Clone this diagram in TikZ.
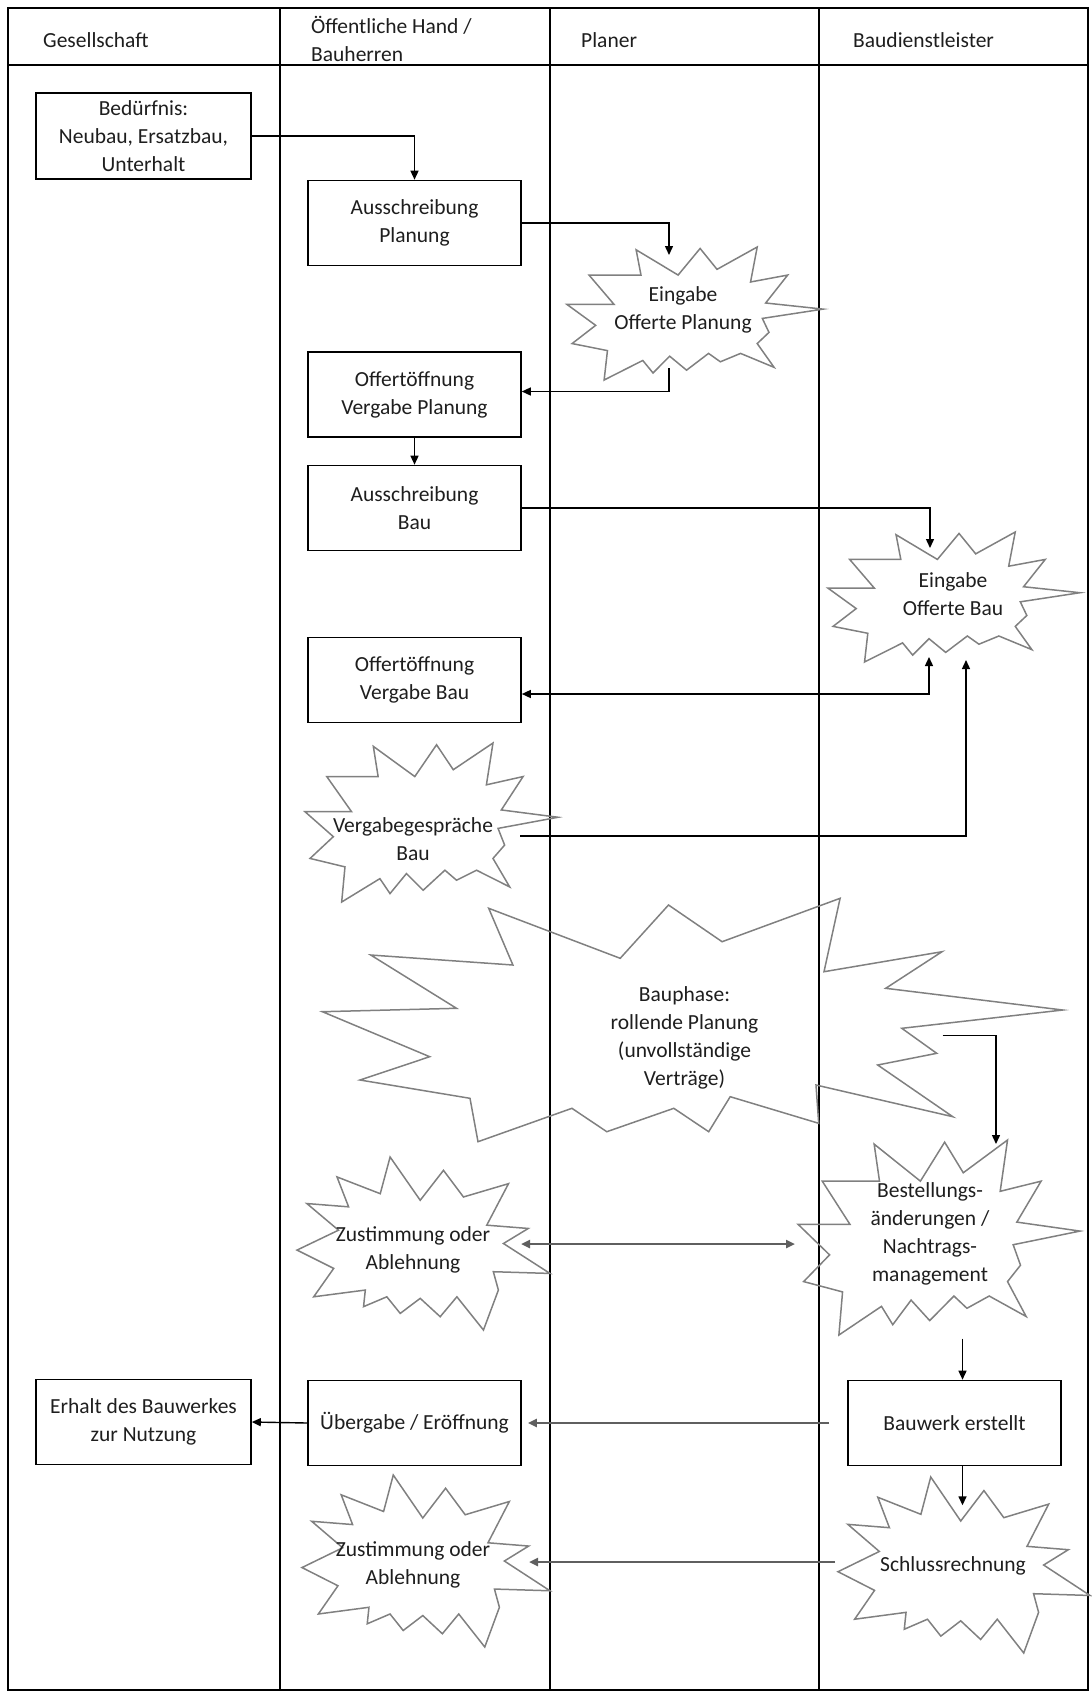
\documentclass[tikz,border=0pt]{standalone}
\usepackage{fontspec}
\setmainfont{Carlito}
\usetikzlibrary{arrows.meta,calc}
\definecolor{txt}{RGB}{30,30,30}
\definecolor{starc}{RGB}{128,128,128}
\definecolor{garrc}{RGB}{95,95,95}
\tikzset{
  lane/.style={line width=1.5pt, draw=black},
  box/.style={draw=black, line width=1.6pt, minimum width=213pt, minimum height=85pt, align=center, inner sep=2pt, text=txt},
  startext/.style={align=center, inner sep=0pt, text=txt},
  hdr/.style={anchor=west, align=left, inner sep=0pt, text=txt},
  starline/.style={draw=starc, line width=1.5pt, line join=miter},
  arr/.style={draw=black, line width=1.4pt, -{Triangle[length=9pt,width=8pt]}},
  arrb/.style={draw=black, line width=1.4pt, {Triangle[length=9pt,width=8pt]}-{Triangle[length=9pt,width=8pt]}},
  garr/.style={draw=garrc, line width=2.4pt, -{Triangle[length=9pt,width=8pt]}},
  garrb/.style={draw=garrc, line width=2.4pt, {Triangle[length=9pt,width=8pt]}-{Triangle[length=9pt,width=8pt]}},
  shapeone/.pic={
    \draw[starline] (0.270,0.021) -- (0.434,0.211) -- (0.520,0.011) -- (0.586,0.168) -- (0.743,0.000) -- (0.717,0.263) -- (0.862,0.211) -- (0.776,0.421) -- (1.000,0.467) -- (0.763,0.537) -- (0.789,0.642) -- (0.743,0.726) -- (0.809,0.905) -- (0.678,0.800) -- (0.599,0.863) -- (0.553,0.800) -- (0.467,0.926) -- (0.401,0.821) -- (0.336,0.947) -- (0.296,0.853) -- (0.145,1.000) -- (0.158,0.779) -- (0.020,0.726) -- (0.112,0.589) -- (0.000,0.432) -- (0.184,0.432) -- (0.086,0.211) -- (0.289,0.211) -- cycle;
  },
  shapetwo/.pic={
    \draw[starline] (0.368,0.000) -- (0.487,0.250) -- (0.579,0.077) -- (0.658,0.231) -- (0.836,0.154) -- (0.750,0.394) -- (0.914,0.413) -- (0.816,0.500) -- (1.000,0.673) -- (0.776,0.663) -- (0.796,0.769) -- (0.737,1.000) -- (0.632,0.808) -- (0.566,0.923) -- (0.487,0.817) -- (0.408,0.904) -- (0.355,0.808) -- (0.263,0.865) -- (0.270,0.769) -- (0.066,0.808) -- (0.145,0.644) -- (0.000,0.538) -- (0.164,0.423) -- (0.039,0.269) -- (0.204,0.288) -- (0.158,0.115) -- (0.329,0.212) -- cycle;
  }
}
\begin{document}
\begin{tikzpicture}[x=1pt, y=-1pt, font=\fontsize{21.5}{28}\selectfont]
\useasboundingbox (0,0) rectangle (1092,1695);
% swimlanes
\draw[lane] (8,8) rectangle (1088,1690);
\draw[lane] (8,65) -- (1088,65);
\draw[lane] (280,8) -- (280,1690);
\draw[lane] (550,8) -- (550,1690);
\draw[lane] (819,8) -- (819,1690);
\node[hdr] (h1) at (43,40) {Gesellschaft};
\node[hdr] (h2) at (311,39) {Öffentliche Hand /\\Bauherren};
\node[hdr] (h3) at (581,40) {Planer};
\node[hdr] (h4) at (853,40) {Baudienstleister};
% starbursts (outlines)
\pic[shift={(567,247)}, xscale=256, yscale=133] {shapeone};
\pic[shift={(828,532)}, xscale=252, yscale=130] {shapeone};
\pic[shift={(305,743)}, xscale=253, yscale=159] {shapeone};
\pic[shift={(798,1140)}, xscale=282, yscale=195] {shapeone};
\pic[shift={(297,1157)}, xscale=253, yscale=173] {shapetwo};
\pic[shift={(302,1475)}, xscale=248, yscale=172] {shapetwo};
\pic[shift={(838,1477)}, xscale=252, yscale=176] {shapetwo};
\draw[starline] (488.7,908.3) -- (512.9,965) -- (370.7,955) -- (456.5,1008.3) -- (322.4,1011.7) -- (429.7,1056.7) -- (360,1080) -- (470,1098.3) -- (478,1141.7) -- (571.9,1108.3) -- (606.8,1131.7) -- (673.8,1108.3) -- (708.7,1131.7) -- (730.2,1096.7) -- (818.7,1123.3) -- (816,1085) -- (952.8,1116.7) -- (877.7,1065) -- (936.7,1053.3) -- (901.8,1028.3) -- (1062.8,1010) -- (885.7,988.3) -- (942,951.7) -- (824,971.7) -- (840.1,898.3) -- (722.1,941.7) -- (668.5,905) -- (620.2,958.3) -- cycle;
% star texts
\node[startext] (eop) at (683,310) {Eingabe\\Offerte Planung};
\node[startext] (eob) at (953,594) {Eingabe\\Offerte Bau};
\node[startext] (vgb) at (413,839) {Vergabegespräche\\Bau};
\node[startext] (bph) at (684.5,1037.5) {Bauphase:\\rollende Planung\\(unvollständige\\Verträge)};
\node[startext] (zu1) at (413,1250) {Zustimmung oder\\Ablehnung};
\node[startext] (bes) at (930,1234) {Bestellungs-\\änderungen /\\Nachtrags-\\management};
\node[startext] (zu2) at (413,1565) {Zustimmung oder\\Ablehnung};
\node[startext] (slr) at (953,1566) {Schlussrechnung};
% boxes
\node[box, minimum width=215pt, minimum height=86pt] (bed) at (143.5,136) {Bedürfnis:\\Neubau, Ersatzbau,\\Unterhalt};
\node[box] (ap) at (414.5,223) {Ausschreibung\\Planung};
\node[box] (ovp) at (414.5,394.5) {Offertöffnung\\Vergabe Planung};
\node[box] (ab) at (414.5,508) {Ausschreibung\\Bau};
\node[box] (ovb) at (414.5,680) {Offertöffnung\\Vergabe Bau};
\node[box] (ueb) at (414.5,1423) {Übergabe / Eröffnung};
\node[box, minimum width=215pt] (erh) at (143.5,1422) {Erhalt des Bauwerkes\\zur Nutzung};
\node[box] (bau) at (954.5,1423) {Bauwerk erstellt};
% connectors
\draw[arr] (bed.east) -| (ap.north);
\draw[arr] (ap.east) -| ($(eop)+(-14,-55)$);
\draw[arr] ($(eop)+(-14,58)$) |- ([yshift=3pt]ovp.east);
\draw[arr] (ovp.south) -- (ab.north);
\draw[arr] (ab.east) -| ($(eob)+(-23,-46)$);
\draw[arrb] ([yshift=-14pt]ovb.east) -| ($(eob)+(-24,63)$);
\draw[arr] ($(vgb)+(107,-3)$) -| ($(eob)+(13,66)$);
\draw[arr] ($(bph)+(258,-2)$) -| ($(bes)+(66,-90)$);
\draw[garrb] ($(zu1)+(108,-6)$) -- ($(bes)+(-135,10)$);
\draw[arr] ([xshift=8pt,yshift=41pt]bau.north) -- ([xshift=8pt]bau.north);
\draw[garr, shorten >=6pt] ([xshift=-18pt]bau.west) -- (ueb.east);
\draw[arr] (ueb.west) -- (erh.east);
\draw[arr] ([xshift=8pt]bau.south) -- ([xshift=8pt,yshift=-39pt]bau.south);
\draw[garr] ($(slr)+(-118,-4)$) -- ($(zu2)+(116,-3)$);
\end{tikzpicture}
\end{document}
